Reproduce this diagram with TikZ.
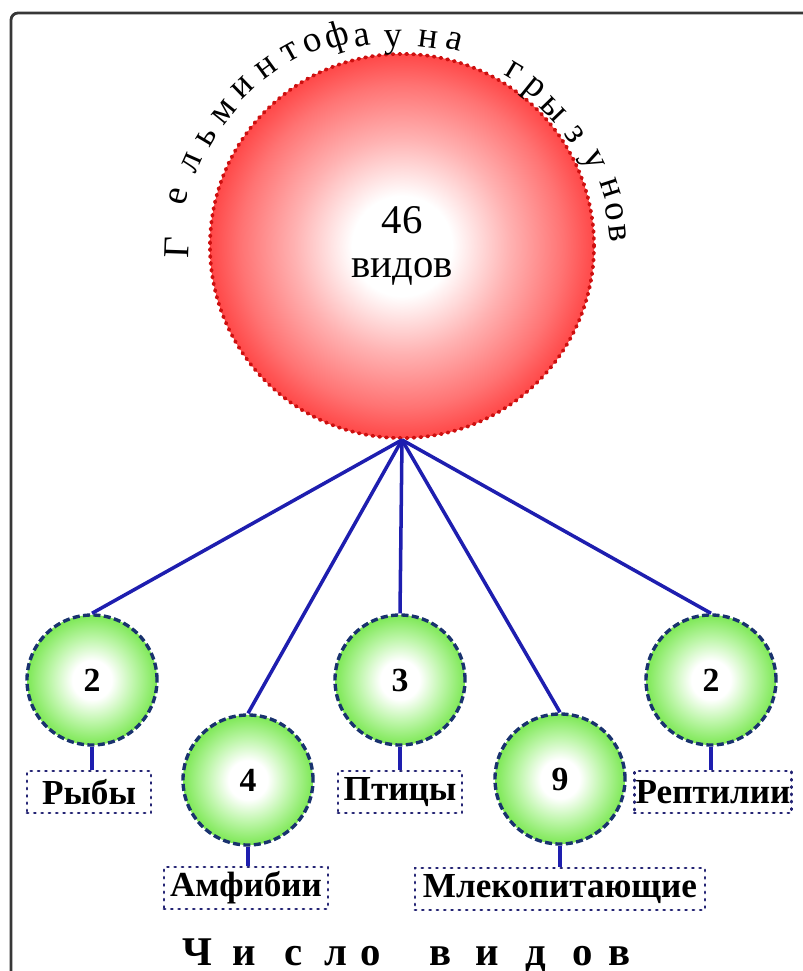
\documentclass[tikz,border=0pt]{standalone}
\usepackage{fontspec}
\setmainfont{Liberation Serif}
\usetikzlibrary{positioning}
\definecolor{BallRed}{RGB}{255,72,72}
\definecolor{MidRed}{RGB}{255,115,115}
\definecolor{PaleRed}{RGB}{255,178,178}
\definecolor{DotRed}{RGB}{205,15,15}
\definecolor{BallGreen}{RGB}{125,232,85}
\definecolor{PaleGreen}{RGB}{190,246,170}
\definecolor{RimNavy}{RGB}{25,50,110}
\definecolor{LinkBlue}{RGB}{30,30,175}
\definecolor{BoxNavy}{RGB}{35,35,115}
\definecolor{FrameGray}{RGB}{55,55,55}
\pgfdeclareradialshading{redball}{\pgfpoint{0bp}{0bp}}{color(0bp)=(white); color(6.5bp)=(white); color(14bp)=(PaleRed); color(21bp)=(MidRed); color(25bp)=(BallRed); color(50bp)=(BallRed)}
\pgfdeclareradialshading{greenball}{\pgfpoint{0bp}{0bp}}{color(0bp)=(white); color(7.5bp)=(white); color(16bp)=(PaleGreen); color(25bp)=(BallGreen); color(50bp)=(BallGreen)}
\tikzset{
  bigball/.style={circle, minimum size=9.6cm, inner sep=0pt, shade, shading=redball,
    draw=DotRed, line width=2.6pt, dash pattern=on 1pt off 3.9pt, line cap=round,
    align=center, font=\fontsize{29}{31}\selectfont},
  kidball/.style={circle, minimum size=3.25cm, inner sep=0pt, shade, shading=greenball,
    draw=RimNavy, line width=2.4pt, dash pattern=on 5pt off 2.4pt,
    font=\fontsize{24}{26}\selectfont\bfseries},
  grouplab/.style={draw=BoxNavy, line width=2pt, dash pattern=on 0.8pt off 4.4pt, line cap=round,
    minimum height=1.05cm, inner sep=1pt, font=\fontsize{25}{27}\selectfont\bfseries},
  link/.style={draw=LinkBlue, line width=2.5pt},
  arcch/.style={inner sep=0pt, font=\fontsize{26}{28}\selectfont},
  titlech/.style={inner sep=0pt, anchor=base, font=\fontsize{29}{31}\selectfont\bfseries},
  frame/.style={draw=FrameGray, line width=2pt, rounded corners=5pt},
}
\begin{document}
\begin{tikzpicture}[x=0.025cm, y=-0.025cm]
\useasboundingbox (0,0) rectangle (802,971);
\draw[frame] (11,985) -- (11,13) -- (815,13);

\node[bigball] (total) at (402,246) {46\\видов};

% title bent round the big ball
\foreach \ch/\x/\y/\a in {Г/177/248/88, е/178/196/75, л/192/163/66, ь/207/137/59,
    м/224/112/51, и/243/88/44, н/266/68/36, т/290/52/29, о/313/43/23, ф/337/38/17,
    а/362/38/10, у/393/43/2, н/428/39/-7, а/454/41/-14,
    г/514/71/-31, р/533/91/-39, ы/553/110/-46, з/575/135/-55, у/590/162/-64,
    н/610/188/-72, о/615/212/-79, в/618/233/-84}
  \node[arcch, rotate=\a] at (\x,\y) {\ch};

% classes
\foreach \n/\x/\y/\v in {fish/92/680/2, amph/248/780/4, bird/400/680/3, mamm/560/779/9, rept/711/680/2}
  \node[kidball] (\n) at (\x,\y) {\v};

\foreach \n/\x/\y/\w/\t in {fish/89/792/3.1/Рыбы, amph/246/888/4.1/Амфибии, bird/400/792/3.1/Птицы,
    mamm/560/889/7.25/Млекопитающие, rept/713/792/3.75/Рептилии}
  \node[grouplab, minimum width=\w cm] (\n-lab) at (\x,\y) {\t};

\foreach \n in {fish, amph, bird, mamm, rept} {
  \draw[link] (total.south) -- (\n.north);
  \draw[link] (\n.south) -- (\n.south |- \n-lab.north);
}

\foreach \ch/\x in {Ч/197, и/244, с/294, л/336, о/371, в/441, и/487, д/536, о/583, в/620}
  \node[titlech] at (\x,965) {\ch};
\end{tikzpicture}
\end{document}
